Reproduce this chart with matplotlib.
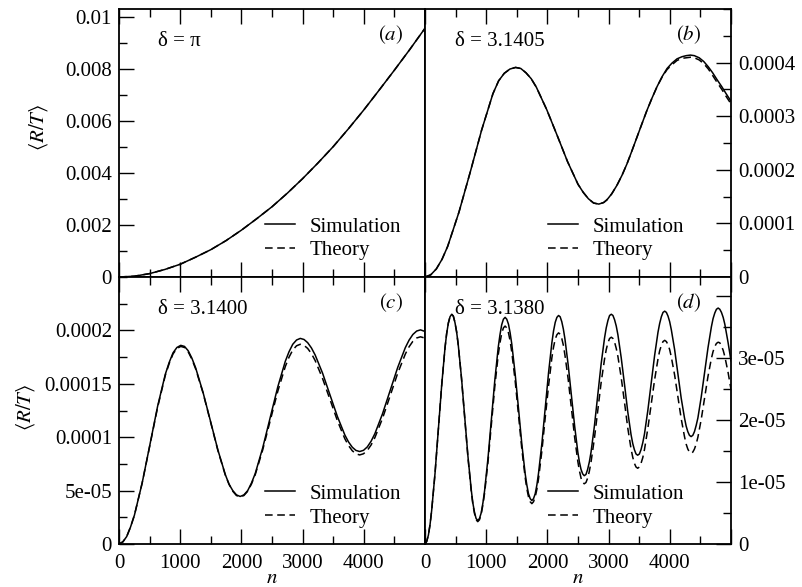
import matplotlib
matplotlib.use("Agg")
import matplotlib.pyplot as plt
from matplotlib.ticker import MultipleLocator

plt.rcParams['font.family'] = ['Liberation Serif', 'DejaVu Serif']
plt.rcParams['mathtext.fontset'] = 'stix'
FS = 15

# ---------------- data ----------------
a_n = [0, 250, 500, 750, 1000, 1250, 1500, 1750, 2000, 2250, 2500, 2750, 3000,
       3250, 3500, 3750, 4000, 4250, 4500, 4750, 5000]
a_sim = [0, 0.03, 0.13, 0.29, 0.49, 0.76, 1.05, 1.40, 1.80, 2.24, 2.70, 3.22, 3.78,
         4.38, 5.01, 5.70, 6.42, 7.18, 7.95, 8.74, 9.56]          # x 1e-3
a_th = [0, 0.03, 0.13, 0.29, 0.49, 0.76, 1.05, 1.40, 1.80, 2.24, 2.70, 3.22, 3.78,
        4.38, 5.01, 5.70, 6.42, 7.18, 7.95, 8.74, 9.56]           # x 1e-3

b_n = [0, 93, 185, 278, 370, 555, 740, 925, 1110, 1203, 1295, 1388,
       1480, 1565, 1650, 1735, 1820, 1990, 2160, 2330, 2500, 2585, 2670, 2755,
       2840, 2920, 2973, 3050, 3136, 3220, 3300, 3380, 3464, 3545, 3627, 3710,
       3791, 3870, 3955, 4035, 4118, 4200, 4270, 4337, 4400, 4480, 4555, 4630,
       4700, 4773, 4850, 4920, 5000]
b_sim = [0, 0.04, 0.15, 0.33, 0.57, 1.21, 1.96, 2.74, 3.42, 3.66, 3.80, 3.88,
         3.91, 3.89, 3.81, 3.70, 3.54, 3.12, 2.64, 2.15, 1.73, 1.58, 1.46, 1.38,
         1.36, 1.39, 1.44, 1.55, 1.71, 1.90, 2.11, 2.35, 2.61, 2.86, 3.11, 3.34,
         3.55, 3.73, 3.89, 3.99, 4.07, 4.11, 4.13, 4.14, 4.13, 4.09, 4.02, 3.92,
         3.81, 3.68, 3.55, 3.42, 3.28]                             # x 1e-4
b_th = [0, 0.04, 0.15, 0.33, 0.57, 1.21, 1.96, 2.74, 3.42, 3.66, 3.80, 3.88,
        3.91, 3.89, 3.81, 3.70, 3.54, 3.12, 2.64, 2.15, 1.73, 1.58, 1.46, 1.38,
        1.36, 1.39, 1.44, 1.55, 1.71, 1.90, 2.11, 2.35, 2.61, 2.86, 3.11, 3.34,
        3.55, 3.72, 3.87, 3.96, 4.04, 4.08, 4.09, 4.10, 4.09, 4.05, 3.98, 3.88,
        3.76, 3.63, 3.50, 3.37, 3.23]                              # x 1e-4

c_n = [0, 63, 126, 189, 252, 378, 505, 631, 757, 820, 883, 946,
       1009, 1070, 1130, 1191, 1252, 1373, 1495, 1616, 1737, 1798, 1859, 1919,
       1980, 2041, 2103, 2164, 2226, 2348, 2471, 2594, 2717, 2778, 2839, 2901,
       2962, 3023, 3083, 3144, 3205, 3326, 3448, 3569, 3690, 3751, 3812, 3872,
       3933, 3995, 4057, 4119, 4181, 4305, 4430, 4554, 4678, 4740, 4802, 4864,
       4926, 5000]
c_sim = [0, 0.02, 0.07, 0.16, 0.27, 0.57, 0.93, 1.29, 1.59, 1.70, 1.79, 1.84,
         1.86, 1.85, 1.81, 1.74, 1.65, 1.42, 1.15, 0.88, 0.65, 0.56, 0.50, 0.46,
         0.445, 0.46, 0.50, 0.57, 0.66, 0.90, 1.185, 1.47, 1.71, 1.80, 1.87, 1.91,
         1.925, 1.915, 1.885, 1.836, 1.77, 1.60, 1.395, 1.193, 1.021, 0.955, 0.906, 0.876,
         0.866, 0.877, 0.909, 0.962, 1.033, 1.218, 1.436, 1.653, 1.838, 1.909, 1.962, 1.994,
         2.005, 1.99]                                              # x 1e-4
c_th = [0, 0.02, 0.07, 0.16, 0.27, 0.57, 0.925, 1.28, 1.58, 1.69, 1.78, 1.83,
        1.85, 1.84, 1.80, 1.73, 1.64, 1.415, 1.145, 0.875, 0.646, 0.559, 0.494, 0.454,
        0.44, 0.454, 0.494, 0.561, 0.649, 0.881, 1.155, 1.429, 1.661, 1.749, 1.816, 1.856,
        1.87, 1.86, 1.831, 1.783, 1.718, 1.55, 1.352, 1.154, 0.986, 0.921, 0.873, 0.844,
        0.834, 0.845, 0.876, 0.927, 0.996, 1.175, 1.387, 1.599, 1.778, 1.847, 1.898, 1.929,
        1.94, 1.928]                                               # x 1e-4

d_n = [0, 27, 55, 82, 109, 164, 218, 273, 327, 354, 382, 409,
       436, 463, 489, 516, 543, 596, 649, 702, 756, 782, 809, 835,
       862, 890, 918, 946, 974, 1030, 1086, 1141, 1197, 1225, 1253, 1281,
       1309, 1336, 1364, 1391, 1418, 1473, 1528, 1582, 1637, 1664, 1691, 1719,
       1746, 1773, 1801, 1828, 1855, 1910, 1964, 2019, 2073, 2100, 2128, 2155,
       2182, 2208, 2235, 2261, 2287, 2340, 2392, 2445, 2497, 2523, 2550, 2576,
       2602, 2630, 2657, 2685, 2713, 2768, 2823, 2878, 2934, 2961, 2989, 3016,
       3044, 3071, 3098, 3125, 3152, 3206, 3260, 3313, 3367, 3394, 3421, 3448,
       3475, 3503, 3530, 3558, 3586, 3641, 3696, 3751, 3807, 3834, 3862, 3889,
       3917, 3944, 3971, 3998, 4025, 4079, 4133, 4186, 4240, 4267, 4294, 4321,
       4348, 4376, 4403, 4431, 4459, 4514, 4569, 4624, 4680, 4707, 4735, 4762,
       4790, 4817, 4844, 4872, 4899, 4953, 5000]
d_sim = [0, 0.04, 0.14, 0.31, 0.54, 1.14, 1.85, 2.56, 3.16, 3.39, 3.56, 3.66,
         3.70, 3.67, 3.57, 3.42, 3.21, 2.68, 2.04, 1.41, 0.87, 0.66, 0.51, 0.41,
         0.38, 0.41, 0.50, 0.66, 0.86, 1.39, 2.02, 2.64, 3.17, 3.37, 3.53, 3.62,
         3.65, 3.62, 3.54, 3.40, 3.22, 2.74, 2.18, 1.61, 1.13, 0.95, 0.81, 0.73,
         0.70, 0.73, 0.81, 0.95, 1.14, 1.62, 2.19, 2.76, 3.24, 3.43, 3.57, 3.65,
         3.68, 3.66, 3.58, 3.46, 3.30, 2.88, 2.39, 1.90, 1.48, 1.32, 1.20, 1.13,
         1.10, 1.12, 1.20, 1.32, 1.48, 1.90, 2.40, 2.90, 3.32, 3.48, 3.60, 3.68,
         3.70, 3.68, 3.61, 3.51, 3.37, 3.00, 2.57, 2.13, 1.76, 1.62, 1.52, 1.45,
         1.43, 1.45, 1.52, 1.63, 1.77, 2.15, 2.59, 3.03, 3.41, 3.55, 3.66, 3.73,
         3.75, 3.73, 3.67, 3.58, 3.45, 3.13, 2.74, 2.35, 2.03, 1.90, 1.81, 1.75,
         1.73, 1.75, 1.81, 1.91, 2.03, 2.37, 2.77, 3.16, 3.50, 3.63, 3.72, 3.78,
         3.80, 3.78, 3.73, 3.65, 3.54, 3.24, 2.95]                 # x 1e-5
d_th = [0, 0.04, 0.14, 0.31, 0.54, 1.14, 1.85, 2.56, 3.16, 3.39, 3.56, 3.66,
        3.70, 3.67, 3.57, 3.42, 3.21, 2.67, 2.03, 1.39, 0.85, 0.64, 0.49, 0.39,
        0.36, 0.39, 0.48, 0.63, 0.82, 1.33, 1.94, 2.54, 3.05, 3.24, 3.39, 3.48,
        3.51, 3.48, 3.40, 3.27, 3.09, 2.63, 2.08, 1.53, 1.07, 0.89, 0.76, 0.68,
        0.65, 0.68, 0.76, 0.88, 1.05, 1.50, 2.03, 2.55, 3.00, 3.17, 3.30, 3.37,
        3.40, 3.38, 3.31, 3.20, 3.04, 2.65, 2.19, 1.72, 1.33, 1.18, 1.06, 0.99,
        0.97, 0.99, 1.06, 1.17, 1.32, 1.70, 2.15, 2.60, 2.98, 3.13, 3.24, 3.31,
        3.33, 3.31, 3.25, 3.15, 3.02, 2.68, 2.28, 1.87, 1.53, 1.40, 1.30, 1.24,
        1.22, 1.24, 1.30, 1.39, 1.52, 1.86, 2.25, 2.64, 2.98, 3.11, 3.20, 3.26,
        3.28, 3.26, 3.21, 3.13, 3.01, 2.72, 2.37, 2.02, 1.73, 1.61, 1.53, 1.48,
        1.46, 1.48, 1.53, 1.61, 1.72, 2.01, 2.36, 2.70, 2.99, 3.10, 3.18, 3.23,
        3.25, 3.24, 3.19, 3.12, 3.02, 2.76, 2.49]                  # x 1e-5

x_ticks = [0, 1000, 2000, 3000, 4000, 5000]
x_labels = ['0', '1000', '2000', '3000', '4000', '']

a_yticks = [0, 0.002, 0.004, 0.006, 0.008, 0.01]
a_ylabels = ['0', '0.002', '0.004', '0.006', '0.008', '0.01']
b_yticks = [0, 0.0001, 0.0002, 0.0003, 0.0004]
b_ylabels = ['0', '0.0001', '0.0002', '0.0003', '0.0004']
c_yticks = [0, 5e-05, 0.0001, 0.00015, 0.0002]
c_ylabels = ['0', '5e-05', '0.0001', '0.00015', '0.0002']
d_yticks = [0, 1e-05, 2e-05, 3e-05, 4e-05]
d_ylabels = ['0', '1e-05', '2e-05', '3e-05', '']

deltas = ['δ = π', 'δ = 3.1405', 'δ = 3.1400', 'δ = 3.1380']
tags = ['$(a)$', '$(b)$', '$(c)$', '$(d)$']

# ---------------- figure ----------------
fig = plt.figure(figsize=(8.02, 5.87), dpi=100)
L, W, R = 119/802, 306/802, 425/802
BT, HT = (587-277)/587, 268/587
BB, HB = (587-544)/587, 267/587
ax_a = fig.add_axes([L, BT, W, HT])
ax_b = fig.add_axes([R, BT, W, HT])
ax_c = fig.add_axes([L, BB, W, HB])
ax_d = fig.add_axes([R, BB, W, HB])

panels = [
    (ax_a, a_n, a_sim, a_th, 1e-3, 0.0103, a_yticks, a_ylabels, 0.001, 'left', False),
    (ax_b, b_n, b_sim, b_th, 1e-4, 0.0005, b_yticks, b_ylabels, 0.00005, 'right', False),
    (ax_c, c_n, c_sim, c_th, 1e-4, 0.00025, c_yticks, c_ylabels, 2.5e-05, 'left', True),
    (ax_d, d_n, d_sim, d_th, 1e-5, 4.3e-05, d_yticks, d_ylabels, 5e-06, 'right', True),
]

for i, (ax, n, sim, th, sc, ymax, yt, yl, ymin_step, side, xlab) in enumerate(panels):
    ax.plot(n, [v*sc for v in sim], color='black', lw=1.1, label='Simulation')
    ax.plot(n, [v*sc for v in th], color='black', lw=1.1, dashes=(5, 3), label='Theory')
    ax.set_xlim(0, 5000)
    ax.set_ylim(0, ymax)
    ax.set_xticks(x_ticks)
    ax.set_xticklabels(x_labels if xlab else [''] * len(x_ticks))
    ax.xaxis.set_minor_locator(MultipleLocator(500))
    ax.set_yticks(yt)
    ax.set_yticklabels(yl)
    ax.yaxis.set_minor_locator(MultipleLocator(ymin_step))
    for s in ax.spines.values():
        s.set_linewidth(1.3)
    left = side == 'left'
    ax.tick_params(which='both', direction='in', top=True, bottom=True,
                   left=left, right=not left, labelleft=left, labelright=not left,
                   labelbottom=xlab, labelsize=FS, width=1.0)
    ax.tick_params(which='major', length=11, pad=5)
    ax.tick_params(which='minor', length=6)
    ax.tick_params(axis='x', which='major', pad=7)
    ax.text(0.127 if left else 0.098, 0.877, deltas[i], transform=ax.transAxes,
            fontsize=FS, ha='left', va='center')
    ax.text(0.928 if left else 0.903, 0.905, tags[i], transform=ax.transAxes,
            fontsize=FS, ha='right', va='center')
    ax.legend(loc='upper left', bbox_to_anchor=(0.477 if left else 0.402, 0.224),
              frameon=False, fontsize=FS, borderpad=0, borderaxespad=0,
              handlelength=1.45, handletextpad=0.7, labelspacing=0.2)
    if xlab:
        ax.set_xlabel('$n$', fontsize=FS, labelpad=-3)

ax_a.set_ylabel(r'$\langle R/T\rangle$', fontsize=FS)
ax_c.set_ylabel(r'$\langle R/T\rangle$', fontsize=FS)
ax_a.yaxis.set_label_coords(-0.224, 0.56)
ax_c.yaxis.set_label_coords(-0.268, 0.513)

fig.savefig('out.png', dpi=100)
